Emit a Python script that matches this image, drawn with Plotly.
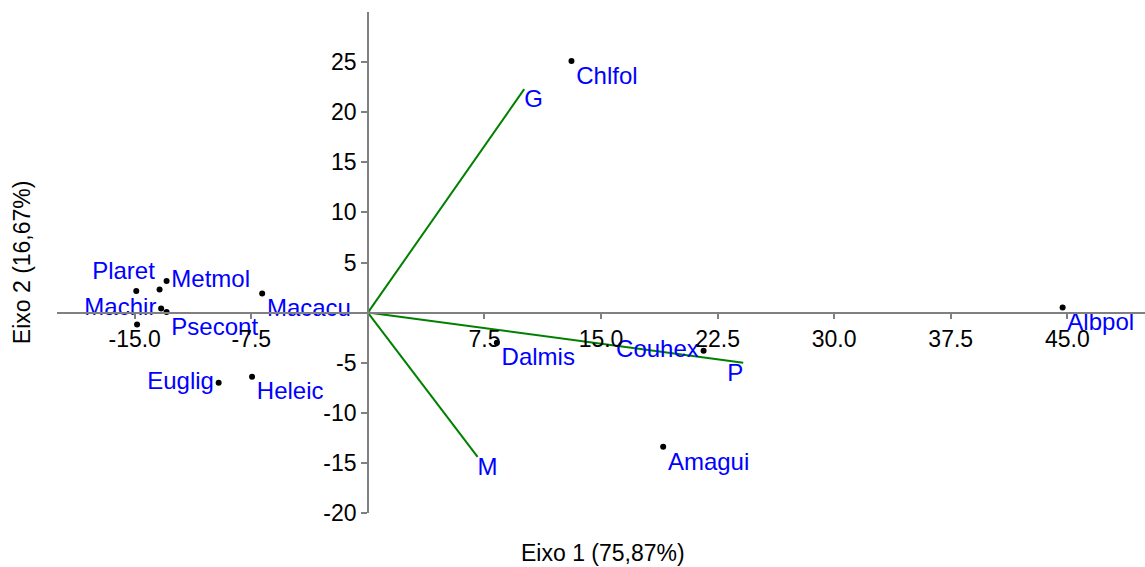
import plotly.graph_objects as go

# Species scores (biplot points)
species = ["Chlfol", "Albpol", "Dalmis", "Couhex", "Amagui", "Plaret", "Metmol", "",
           "Machir", "Psecont", "", "Macacu", "Euglig", "Heleic"]
sp_x = [13.1, 44.7, 8.3, 21.6, 19.0, -13.4, -12.95, -14.9, -13.3, -12.95, -14.85, -6.8, -9.6, -7.45]
sp_y = [25.1, 0.5, -3.0, -3.8, -13.4, 2.3, 3.15, 2.15, 0.4, 0.05, -1.2, 1.9, -7.0, -6.4]
sp_pos = ["bottom right", "bottom right", "bottom right", "middle left", "bottom right",
          "top left", "middle right", "middle right", "middle left", "bottom right",
          "middle right", "bottom right", "middle left", "bottom right"]

# Variable vectors
vectors = ["G", "P", "M"]
vec_x = [10.06, 24.15, 7.06]
vec_y = [22.3, -5.0, -14.4]
vec_pos = ["bottom right", "bottom left", "bottom right"]

x_ticks = [-15, -7.5, 7.5, 15, 22.5, 30, 37.5, 45]
y_ticks = [-20, -15, -10, -5, 5, 10, 15, 20, 25]

FONT = "Liberation Sans, Arial, sans-serif"
FS = 24
fig = go.Figure()

for name, vx, vy, pos in zip(vectors, vec_x, vec_y, vec_pos):
    fig.add_trace(go.Scatter(
        x=[0, vx], y=[0, vy], mode="lines+text", text=["", name], textposition=pos,
        line=dict(color="#008000", width=2),
        textfont=dict(color="#0000FF", size=FS, family=FONT),
        showlegend=False, cliponaxis=False, hoverinfo="skip"))

fig.add_trace(go.Scatter(
    x=sp_x, y=sp_y, mode="markers+text", text=species, textposition=sp_pos,
    marker=dict(color="black", size=6),
    textfont=dict(color="#0000FF", size=FS, family=FONT),
    showlegend=False, cliponaxis=False))

axis_common = dict(showgrid=False, zeroline=False, showline=True, linecolor="#808080",
                   linewidth=1.5, ticks="outside", ticklen=6, tickcolor="#808080",
                   tickwidth=1.5, tickfont=dict(size=FS - 1, color="black", family=FONT),
                   anchor="free", automargin=False)

fig.update_layout(
    width=1145, height=567,
    margin=dict(l=57, r=0, t=12, b=54),
    plot_bgcolor="white", paper_bgcolor="white",
    xaxis=dict(range=[-20, 50], tickvals=x_ticks,
               ticktext=[f"{v:.1f}" for v in x_ticks], position=0.4, **axis_common),
    yaxis=dict(range=[-20, 30], tickvals=y_ticks,
               ticktext=[str(v) for v in y_ticks], position=20 / 70, **axis_common),
    annotations=[
        dict(text="Eixo 1 (75,87%)", xref="paper", yref="paper", x=0.502, y=-0.08,
             xanchor="center", yanchor="middle", showarrow=False,
             font=dict(size=FS - 1, color="black", family=FONT)),
        dict(text="Eixo 2 (16,67%)", xref="paper", yref="paper", x=-0.032, y=0.501,
             xanchor="center", yanchor="middle", textangle=-90, showarrow=False,
             font=dict(size=FS - 1, color="black", family=FONT)),
    ],
)

fig.write_html("out.html", config={"displayModeBar": False},
               post_script="document.body.style.margin='0px';")
